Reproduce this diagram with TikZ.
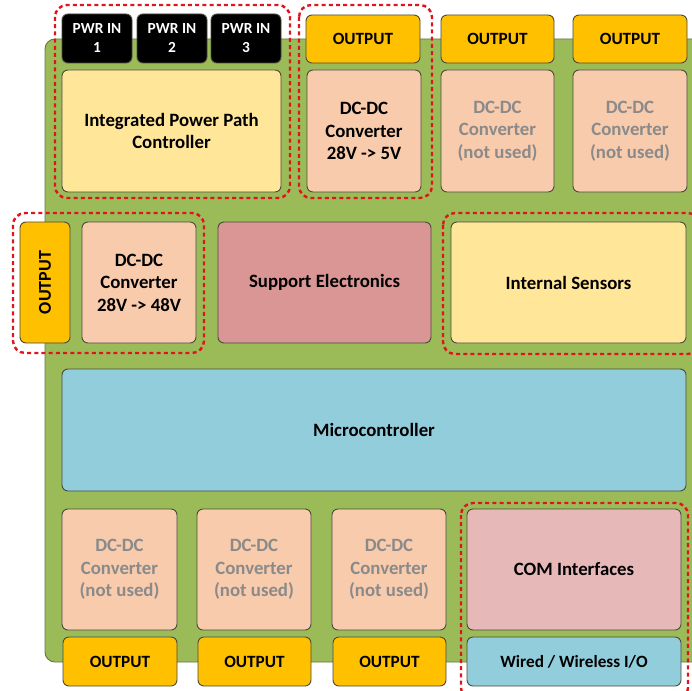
\documentclass[tikz,border=0pt]{standalone}
\usepackage{fontspec}
\setmainfont{Carlito}
\definecolor{board}{HTML}{9BBB59}
\definecolor{boardline}{HTML}{5F7A38}
\definecolor{edge}{HTML}{4A4A3A}
\definecolor{gold}{HTML}{FFC000}
\definecolor{cream}{HTML}{FFE699}
\definecolor{peach}{HTML}{F8CBAD}
\definecolor{rose}{HTML}{D99694}
\definecolor{pink}{HTML}{E6B9B8}
\definecolor{sky}{HTML}{92CDDC}
\definecolor{idle}{HTML}{8A8A8A}
\definecolor{mark}{HTML}{E0141C}
\tikzset{
  blk/.style={draw=edge, line width=0.9pt, rounded corners=6pt, align=center,
    inner sep=1pt, font=\fontsize{18.8}{22.5}\selectfont\bfseries},
  outbox/.style={blk, fill=gold, font=\fontsize{17.2}{20}\selectfont\bfseries},
  pwrbox/.style={blk, fill=black, text=white, font=\fontsize{15.4}{19}\selectfont\bfseries},
  conv/.style={blk, fill=peach},
  idleconv/.style={blk, fill=peach, text=idle},
  group/.style={draw=mark, line width=2.4pt, dash pattern=on 4pt off 3.2pt, rounded corners=12pt}
}
% place a box by its corners (x1,y1)-(x2,y2), y pointing down
\newcommand{\boxat}[7]{%
  \node[#2, minimum width={#5-#3}, minimum height={#6-#4}] (#1)
    at ({(#3+#5)/2},{(#4+#6)/2}) {#7};}
\begin{document}
\begin{tikzpicture}[x=1pt,y=-1pt]
\useasboundingbox (0,0) rectangle (692,690);
\clip (0,0) rectangle (692,690);
% circuit board
\draw[fill=board, draw=boardline, line width=0.9pt, rounded corners=10pt] (45,39) rectangle (720,662);

% top row
\boxat{pwr1}{pwrbox}{62}{14}{132}{63}{PWR IN\\1}
\boxat{pwr2}{pwrbox}{137}{14}{207}{63}{PWR IN\\2}
\boxat{pwr3}{pwrbox}{211}{14}{281}{63}{PWR IN\\3}
\boxat{ippc}{blk, fill=cream}{62}{70}{281}{192}{Integrated Power Path\\Controller}

\boxat{out1}{outbox}{306}{15}{420}{63}{OUTPUT}
\boxat{dc5}{conv}{307}{70}{421}{192}{DC-DC\\Converter\\28V -> 5V}
\boxat{out2}{outbox}{441}{15}{554}{63}{OUTPUT}
\boxat{dcA}{idleconv}{441}{70}{554}{192}{DC-DC\\Converter\\(not used)}
\boxat{out3}{outbox}{573}{15}{687}{63}{OUTPUT}
\boxat{dcB}{idleconv}{573}{70}{687}{192}{DC-DC\\Converter\\(not used)}

% middle row
\boxat{outL}{outbox}{20}{222}{70}{343}{}
\node[rotate=90, font=\fontsize{18}{20}\selectfont\bfseries] at (outL.center) {OUTPUT};
\boxat{dc48}{conv}{82}{222}{196}{343}{DC-DC\\Converter\\28V -> 48V}
\boxat{supp}{blk, fill=rose}{218}{222}{431}{343}{Support Electronics}
\boxat{sens}{blk, fill=cream}{451}{222}{686}{343}{Internal Sensors}

% microcontroller
\boxat{mcu}{blk, fill=sky}{62}{369}{686}{491}{Microcontroller}

% bottom row
\boxat{dcC}{idleconv}{62}{509}{177}{630}{DC-DC\\Converter\\(not used)}
\boxat{out4}{outbox}{63}{637}{177}{686}{OUTPUT}
\boxat{dcD}{idleconv}{197}{509}{311}{630}{DC-DC\\Converter\\(not used)}
\boxat{out5}{outbox}{198}{637}{311}{686}{OUTPUT}
\boxat{dcE}{idleconv}{332}{509}{446}{630}{DC-DC\\Converter\\(not used)}
\boxat{out6}{outbox}{333}{637}{446}{686}{OUTPUT}
\boxat{com}{blk, fill=pink}{467}{509}{681}{630}{COM Interfaces}
\boxat{io}{blk, fill=sky, font=\fontsize{17.2}{20}\selectfont\bfseries}{467}{637}{681}{686}{Wired / Wireless I/O}

% used power / interface groups
\draw[group] (55,5) rectangle (290,198);
\draw[group] (299,5) rectangle (432,198);
\draw[group] (13,213) rectangle (204,353);
\draw[group] (443,213) rectangle (700,354);
\draw[group] (461,503) rectangle (688,700);
\end{tikzpicture}
\end{document}
